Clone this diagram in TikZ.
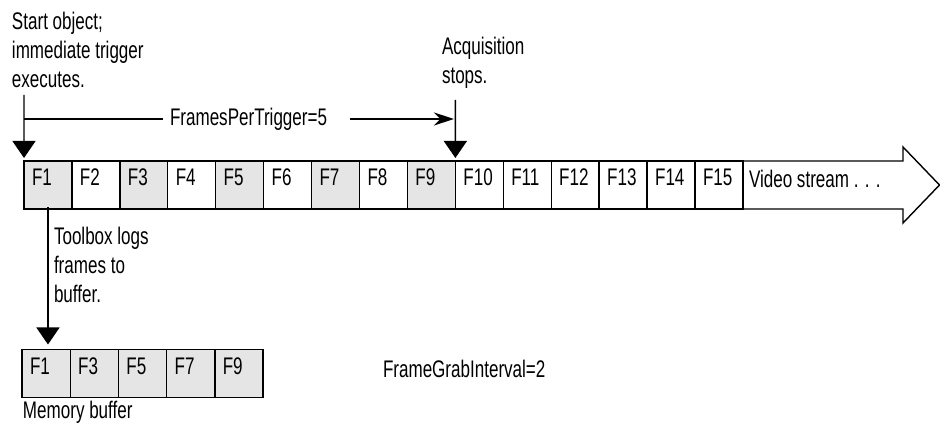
\documentclass[tikz,border=0pt]{standalone}
\usepackage{fontspec}
\setmainfont{Liberation Sans}[FakeStretch=0.71]
\usepackage{tikz}
\usetikzlibrary{arrows.meta,calc}
\newcommand{\figtextsize}{\fontsize{24}{29}\selectfont}

\begin{document}
\begin{tikzpicture}[x=1pt,y=1pt,
  framecell/.style={draw=drawColor,line width=1.4pt,outer sep=0pt,inner sep=0pt,inner xsep=8pt,
    minimum width=47.93,minimum height=48,text width=31.93,align=left,
    text height=16,text depth=14,font=\figtextsize},
  bufcell/.style={framecell,fill=shadeColor,minimum width=48.2,text width=32.2},
  labeltext/.style={text=drawColor,inner sep=0pt,outer sep=0pt,font=\figtextsize},
  fall/.style={draw=drawColor,line width=1.4pt,-{Triangle[length=17pt,width=23pt]}},
  span/.style={draw=drawColor,line width=1.4pt}]
\definecolor{drawColor}{RGB}{0,0,0}
\definecolor{shadeColor}{gray}{0.90}
\definecolor{fillColor}{RGB}{255,255,255}
\path[use as bounding box,fill=fillColor] (0,0) rectangle (940,423);

% video stream of frames
\node[framecell,fill=shadeColor] (f1) at ( 47.97,238) {F1};
\node[framecell] (f2) at ( 95.90,238) {F2};
\node[framecell,fill=shadeColor] (f3) at (143.83,238) {F3};
\node[framecell] (f4) at (191.76,238) {F4};
\node[framecell,fill=shadeColor] (f5) at (239.69,238) {F5};
\node[framecell] (f6) at (287.62,238) {F6};
\node[framecell,fill=shadeColor] (f7) at (335.55,238) {F7};
\node[framecell] (f8) at (383.48,238) {F8};
\node[framecell,fill=shadeColor] (f9) at (431.41,238) {F9};
\node[framecell] (f10) at (479.34,238) {F10};
\node[framecell] (f11) at (527.27,238) {F11};
\node[framecell] (f12) at (575.20,238) {F12};
\node[framecell] (f13) at (623.13,238) {F13};
\node[framecell] (f14) at (671.06,238) {F14};
\node[framecell] (f15) at (718.99,238) {F15};
\draw[span,line width=2.4pt] (f15.north west) -- (f15.south west);

\path[span,line join=miter] (f1.north west) -- (903,262) -- (903,276) -- (939.5,238) --
	(903,200) -- (903,214) -- (f1.south west) -- cycle;

\node[labeltext,anchor=base west] (video) at (749,235) {Video stream . . .};

% trigger start and stop
\node[labeltext,anchor=base west,align=left] (startnote) at (12,335) {Start object;\\immediate trigger\\executes.};
\coordinate (starttop) at (24,328);
\draw[fall,shorten >=3pt] (starttop) -- (f1.north west);

\node[labeltext,anchor=base west] (fpt) at (170,297) {FramesPerTrigger=5};
\coordinate (fptstart) at (24,304);
\coordinate (fptend) at (454,304);
\draw[span,shorten >=7pt] (fptstart) -- (fptstart -| fpt.west);
\draw[span,-{Stealth[length=20pt,width=13pt]},shorten <=23pt] (fpt.east |- fptend) -- (fptend);

\node[labeltext,anchor=base west,align=left] (stopnote) at (442,339) {Acquisition\\stops.};
\coordinate (stoptop) at (455.37,323);
\draw[fall,shorten >=3pt] (stoptop) -- (f10.north west);

% memory buffer
\node[bufcell] (b1) at ( 46.1,49.5) {F1};
\node[bufcell] (b3) at ( 94.3,49.5) {F3};
\node[bufcell] (b5) at (142.5,49.5) {F5};
\node[bufcell] (b7) at (190.7,49.5) {F7};
\node[bufcell] (b9) at (238.9,49.5) {F9};

\node[labeltext,anchor=base west,align=left] (lognote) at (54,120) {Toolbox logs\\frames to\\buffer.};
\draw[fall,shorten >=5pt] ([yshift=2pt]f1.south) -- (f1.south |- b1.north);

\node[labeltext,anchor=base west] (bufname) at (23,4) {Memory buffer};
\node[labeltext,anchor=base west] (fgi) at (383,45) {FrameGrabInterval=2};
\end{tikzpicture}
\end{document}
